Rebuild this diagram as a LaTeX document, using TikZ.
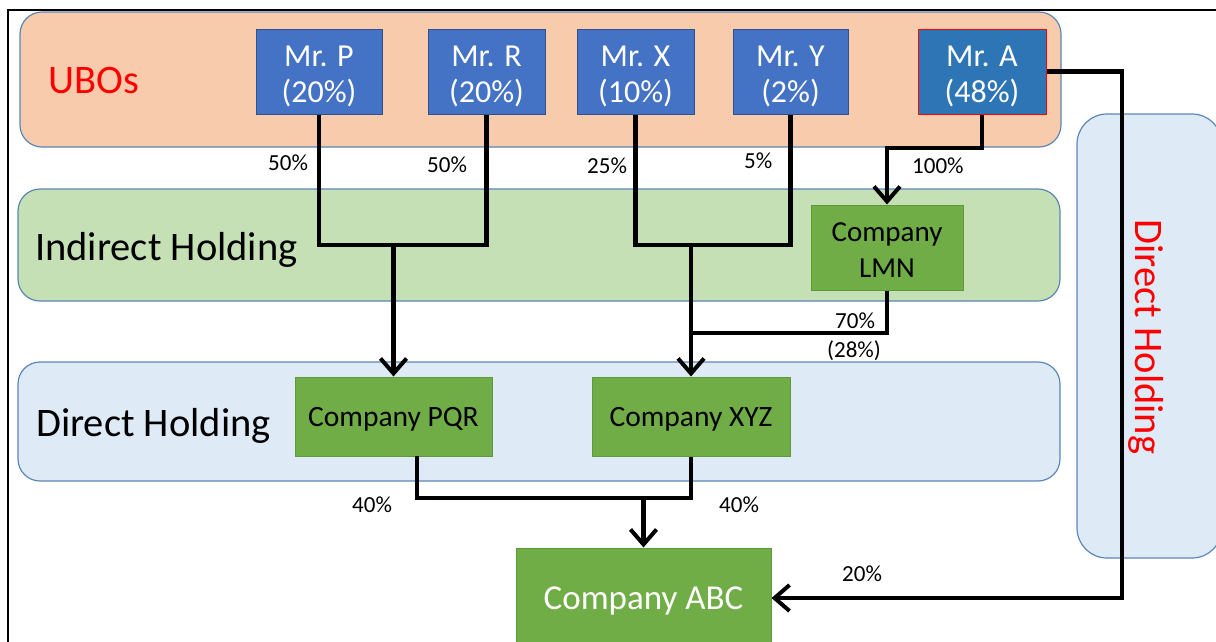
\documentclass[tikz,border=0pt]{standalone}
\usepackage{fontspec}
\setmainfont{Carlito}
\usetikzlibrary{arrows.meta}
\definecolor{ubofill}{HTML}{F8CBAD}
\definecolor{indfill}{HTML}{C5E0B4}
\definecolor{dirfill}{HTML}{DEEBF7}
\definecolor{bandline}{HTML}{5B87B5}
\definecolor{mrfill}{HTML}{4472C4}
\definecolor{mrline}{HTML}{2F528F}
\definecolor{afill}{HTML}{2E75B6}
\definecolor{cofill}{HTML}{70AD47}
\definecolor{coline}{HTML}{5E9A3A}
\definecolor{redtxt}{HTML}{FF0000}
\begin{document}
\begin{tikzpicture}[x=1pt,y=-1pt,
  band/.style={draw=bandline, line width=1.2pt, rounded corners=22pt},
  mrbox/.style={draw=mrline, fill=mrfill, line width=1pt, minimum height=85pt, inner sep=0pt},
  mrtext/.style={text=white, font=\fontsize{32}{36}\selectfont, align=center, inner sep=0pt},
  cobox/.style={draw=coline, fill=cofill, line width=1pt, inner sep=0pt},
  cotext/.style={font=\fontsize{29}{36}\selectfont, align=center, inner sep=0pt},
  pct/.style={anchor=base west, inner sep=0pt, font=\fontsize{23}{27}\selectfont},
  bandlabel/.style={anchor=base west, inner sep=0pt, font=\fontsize{40.5}{46}\selectfont},
  conn/.style={line width=4.4pt, line join=miter},
  arr/.style={conn, -{Straight Barb[length=15pt,width=26pt,line width=4pt]}}
]
\useasboundingbox (0,0) rectangle (1216,641);
% frame
\draw[line width=2pt] (8,700) -- (8,10) -- (1260,10);
% bands
\path[band, fill=ubofill] (20,12) rectangle (1061,147);
\path[band, fill=indfill] (18,189) rectangle (1060,301);
\path[band, fill=dirfill] (18,362) rectangle (1060,481);
\path[band, fill=dirfill, rounded corners=30pt] (1077,114) rectangle (1222,558);
% band labels
\node[bandlabel, text=redtxt] (lubo) at (48,93) {UBOs};
\node[bandlabel] (lind) at (35,260) {Indirect Holding};
\node[bandlabel] (ldir) at (36,436) {Direct Holding};
\node[font=\fontsize{40.5}{46}\selectfont, text=redtxt, rotate=-90, inner sep=0pt] (lright) at (1146,337) {Direct Holding};
% UBO boxes
\node[mrbox, minimum width=126pt] (P) at (319,71.5) {};
\node[mrbox, minimum width=117pt] (R) at (486.5,71.5) {};
\node[mrbox, minimum width=117pt] (X) at (635.5,71.5) {};
\node[mrbox, minimum width=115pt] (Y) at (790.5,71.5) {};
\node[mrbox, minimum width=128pt, draw=redtxt, fill=afill] (A) at (982,71.5) {};
\node[mrtext] (Pt) at ([yshift=-5pt]P.center) {Mr. P\\(20\%)};
\node[mrtext] (Rt) at ([yshift=-5pt]R.center) {Mr. R\\(20\%)};
\node[mrtext] (Xt) at ([yshift=-5pt]X.center) {Mr. X\\(10\%)};
\node[mrtext] (Yt) at ([yshift=-5pt]Y.center) {Mr. Y\\(2\%)};
\node[mrtext] (At) at ([yshift=-5pt]A.center) {Mr. A\\(48\%)};
% company boxes
\node[cobox, minimum width=152pt, minimum height=85pt] (LMN) at (887,247.5) {};
\node[cotext] (LMNt) at ([yshift=-3pt]LMN.center) {Company\\LMN};
\node[cobox, minimum width=197pt, minimum height=79pt, font=\fontsize{29.5}{34}\selectfont, text height=19pt, text depth=0pt] (PQR) at (393.5,416.5) {Company PQR};
\node[cobox, minimum width=198pt, minimum height=79pt, font=\fontsize{29.5}{34}\selectfont, text height=19pt, text depth=0pt] (XYZ) at (691,416.5) {Company XYZ};
\node[cobox, minimum width=255pt, minimum height=100pt, text=white, font=\fontsize{35}{40}\selectfont, text height=22pt, text depth=0pt] (ABC) at (643.5,598) {Company ABC};
% connectors
\coordinate (j1) at (393.5,245);
\coordinate (j2) at (691,245);
\coordinate (j3) at (691,333);
\coordinate (j4) at (887,148);
\coordinate (j5) at (643.5,498);
\coordinate (pqrout) at (417,456);
\coordinate (ra) at (1122,598);
\draw[conn] (P.south) |- (j1) -| (R.south);
\draw[arr] (j1) -- (PQR.north);
\draw[conn] (X.south) |- (j2) -| (Y.south);
\draw[arr] (j2) -- (XYZ.north);
\draw[conn] (LMN.south) |- (j3);
\draw[arr] (A.south) |- (j4) -- (LMN.north);
\draw[conn] (pqrout) |- (j5) -| (XYZ.south);
\draw[arr] (j5) -- (ABC.north);
\draw[arr] (A.east) -| (ra) -- (ABC.east);
% percentages
\node[pct] (p1) at (268,170) {50\%};
\node[pct] (p2) at (427,172) {50\%};
\node[pct] (p3) at (587,173) {25\%};
\node[pct] (p4) at (744,168) {5\%};
\node[pct] (p5) at (912,173) {100\%};
\node[pct] (p6) at (835,328) {70\%};
\node[pct] (p7) at (827,357) {(28\%)};
\node[pct] (p8) at (352,512) {40\%};
\node[pct] (p9) at (719,512) {40\%};
\node[pct] (p10) at (842,581) {20\%};
\end{tikzpicture}
\end{document}
